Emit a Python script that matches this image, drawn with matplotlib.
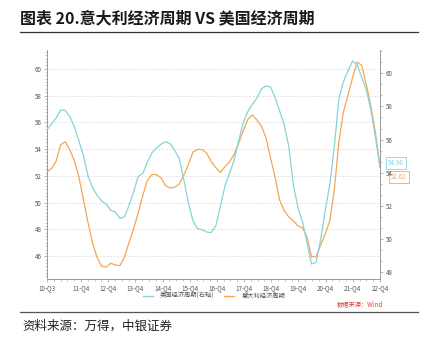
import numpy as np
import matplotlib
matplotlib.use('agg')
import matplotlib.pyplot as plt
from matplotlib.ticker import AutoMinorLocator, FixedLocator
from matplotlib.lines import Line2D

plt.rcParams['font.family'] = ['Noto Sans CJK SC', 'DejaVu Sans']

# 美国经济周期 (right axis), sampled about every two months, 2010-09 .. 2022-12
us_cycle = [56.6, 56.95, 57.3, 57.78, 57.76, 57.4, 56.77, 55.92, 55.03, 53.8,
            53.1, 52.63, 52.3, 52.1, 51.74, 51.62, 51.25, 51.35, 52.05, 52.85,
            53.79, 53.95, 54.65, 55.2, 55.49, 55.73, 55.87, 55.75, 55.35, 54.85,
            53.57, 52.2, 51.1, 50.63, 50.57, 50.43, 50.4, 50.8, 51.95, 53.2,
            53.95, 54.75, 55.9, 57.0, 57.68, 58.12, 58.5, 59.06, 59.24, 59.17,
            58.55, 57.72, 56.9, 55.6, 53.3, 51.9, 51.05, 49.8, 48.5, 48.6,
            50.0, 51.75, 53.3, 55.6, 58.5, 59.5, 60.15, 60.74, 60.5, 59.76,
            59.0, 57.8, 56.15, 54.36]
# 意大利经济周期 (left axis)
it_cycle = [52.3, 52.55, 53.1, 54.33, 54.55, 53.95, 53.12, 51.9, 50.2, 48.5,
            46.95, 45.9, 45.25, 45.2, 45.47, 45.35, 45.3, 45.95, 47.05, 48.05,
            49.25, 50.55, 51.65, 52.1, 52.1, 51.85, 51.27, 51.08, 51.15, 51.4,
            52.05, 52.85, 53.77, 53.98, 53.96, 53.7, 53.07, 52.62, 52.25, 52.7,
            53.03, 53.6, 54.42, 55.35, 56.2, 56.55, 56.18, 55.72, 54.85, 53.35,
            51.9, 50.2, 49.4, 48.93, 48.65, 48.27, 48.12, 47.45, 45.95, 45.97,
            46.85, 47.65, 48.68, 51.0, 54.6, 56.8, 58.05, 59.35, 60.5, 60.25,
            58.8, 57.2, 55.2, 52.62]

tick_labels = ['10-Q3', '11-Q4', '12-Q4', '13-Q4', '14-Q4', '15-Q4', '16-Q4',
               '17-Q4', '18-Q4', '19-Q4', '20-Q4', '21-Q4', '22-Q4']
tick_months = [0, 15, 27, 39, 51, 63, 75, 87, 99, 111, 123, 135, 147]

teal = '#86d4d6'
orange = '#f5a653'
axis_grey = '#9a9a9a'
label_grey = '#555555'

months = np.linspace(0, 147, len(us_cycle))

fig = plt.figure(figsize=(4.28, 3.42), dpi=100)
ax = fig.add_axes([47 / 428, 1 - 279 / 342, 333 / 428, 229 / 342])
ax2 = ax.twinx()

ax.plot(months, it_cycle, color=orange, lw=0.9, zorder=3)
ax2.plot(months, us_cycle, color=teal, lw=0.9, zorder=3)

ax.set_xlim(0, 147)
ax.set_ylim(44.3, 61.4)
ax2.set_ylim(47.6, 61.4)

ax.set_xticks(tick_months)
ax.set_xticklabels(tick_labels)
ax.xaxis.set_minor_locator(FixedLocator(np.arange(0, 148, 3)))
ax.set_yticks(np.arange(46, 61, 2))
ax.yaxis.set_minor_locator(AutoMinorLocator(8))
ax2.set_yticks(np.arange(48, 61, 2))
ax2.yaxis.set_minor_locator(AutoMinorLocator(3))

ax.yaxis.grid(True, color='#d9d9d9', ls=(0, (3, 2)), lw=0.5)
ax.set_axisbelow(True)

for a in (ax, ax2):
    for s in a.spines.values():
        s.set_color(axis_grey)
        s.set_linewidth(0.6)
    a.spines['top'].set_visible(False)
    a.tick_params(which='major', length=2.5, width=0.5, color=axis_grey,
                  labelsize=4.5, labelcolor=label_grey, pad=1.5)
    a.tick_params(which='minor', length=1.5, width=0.4, color=axis_grey)

# end-value labels
ax2.annotate('54.36', xy=(147, us_cycle[-1]), xytext=(6, 3), textcoords='offset points',
             fontsize=4.5, color=teal, va='center', ha='left',
             bbox=dict(boxstyle='square,pad=0.3', fc='white', ec=teal, lw=0.6))
ax.annotate('52.62', xy=(147, it_cycle[-1]), xytext=(8, -7), textcoords='offset points',
            fontsize=4.5, color=orange, va='center', ha='left',
            bbox=dict(boxstyle='square,pad=0.3', fc='white', ec=orange, lw=0.6))

handles = [Line2D([], [], color=teal, lw=1), Line2D([], [], color=orange, lw=1)]
fig.legend(handles, ['美国经济周期(右轴)', '意大利经济周期'], loc='center',
           bbox_to_anchor=(0.5, 1 - 296 / 342), ncol=2, frameon=False,
           fontsize=4.5, handlelength=1.6, columnspacing=1.5, handletextpad=1.2,
           labelcolor=label_grey)

fig.text(360 / 428, 1 - 304 / 342, '数据来源：Wind', fontsize=4.5, color='#e0403a',
         ha='center', va='center')

fig.text(20 / 428, 1 - 18 / 342, '图表 20.意大利经济周期 VS 美国经济周期', fontsize=11.5,
         fontweight='bold', color='#1a1a1a', ha='left', va='center')
fig.add_artist(Line2D([20 / 428, 418 / 428], [1 - 32 / 342] * 2, color='#333333', lw=0.9))
fig.add_artist(Line2D([20 / 428, 418 / 428], [1 - 312 / 342] * 2, color='#555555', lw=0.9))
fig.text(22 / 428, 1 - 326 / 342, '资料来源：万得，中银证券', fontsize=9,
         color='#222222', ha='left', va='center')

fig.savefig('out.png', dpi=100)
